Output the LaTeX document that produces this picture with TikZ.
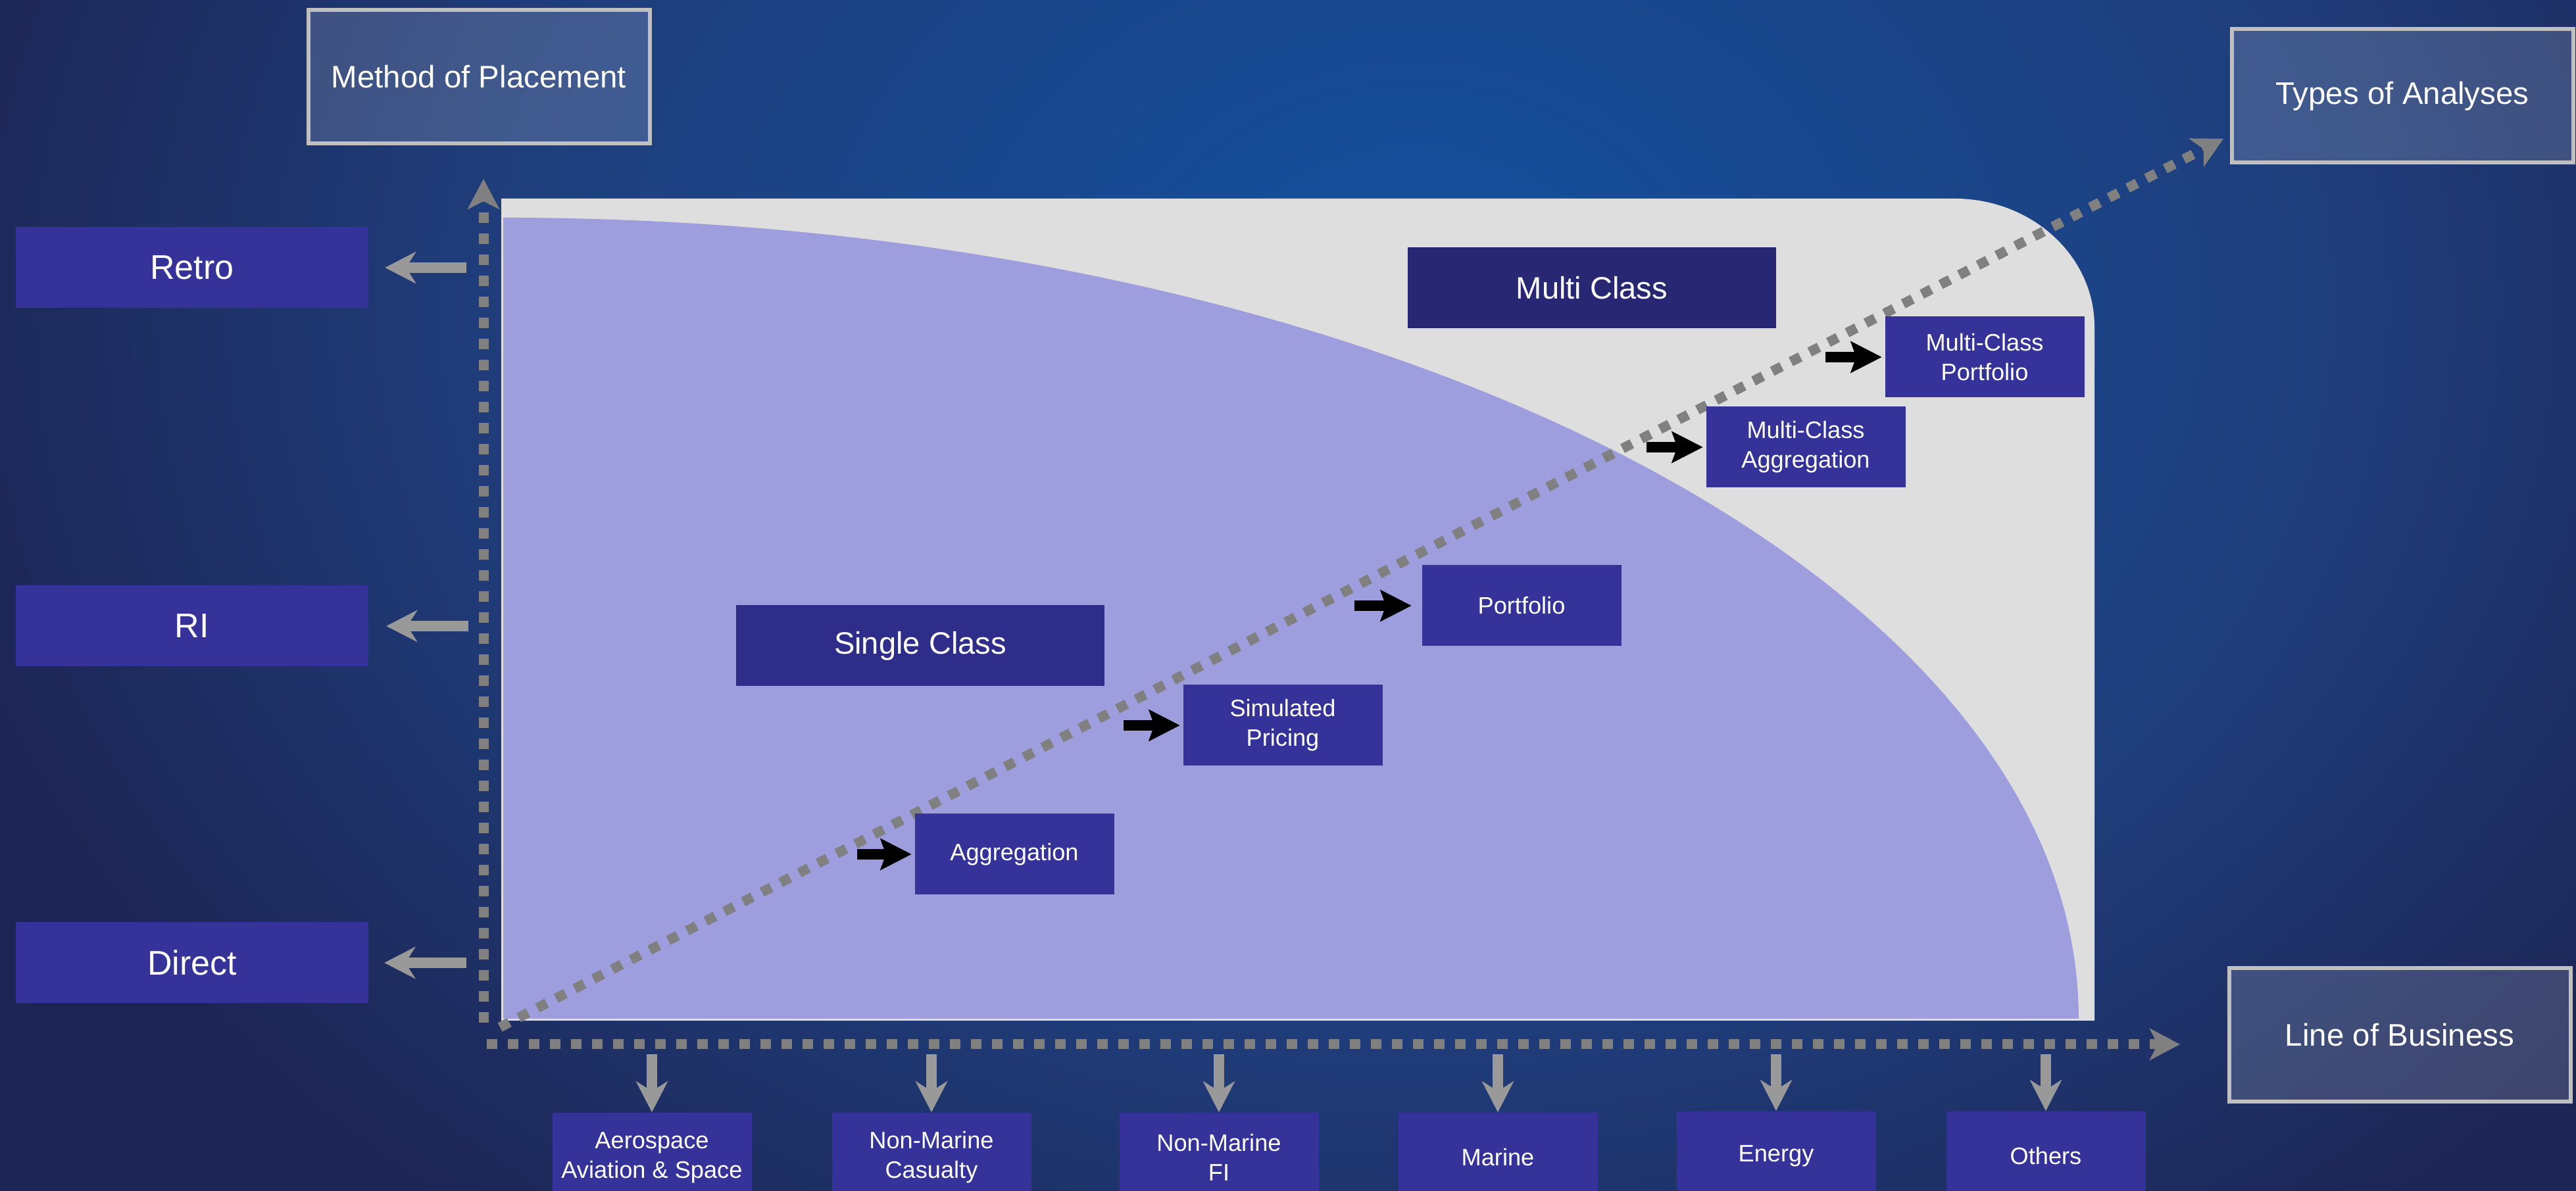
\documentclass[tikz,border=0pt]{standalone}
\usepackage{fontspec}
\setmainfont{Liberation Sans}
\usetikzlibrary{arrows.meta,positioning,calc}

\definecolor{bgin}{RGB}{21,77,152}
\definecolor{bgmid}{RGB}{31,62,124}
\definecolor{bgout}{RGB}{29,37,84}
\definecolor{boxblue}{RGB}{53,51,154}
\definecolor{singleblue}{RGB}{46,46,138}
\definecolor{multiblue}{RGB}{40,39,115}
\definecolor{panelgrey}{RGB}{222,222,222}
\definecolor{lilac}{RGB}{158,158,222}
\definecolor{axisgrey}{RGB}{128,128,128}
\definecolor{arrowgrey}{RGB}{153,153,153}
\definecolor{frameedge}{RGB}{192,192,192}
\pgfdeclareradialshading{bgglow}{\pgfpoint{0bp}{0bp}}{color(0bp)=(bgin); color(3bp)=(bgin); color(15bp)=(bgmid); color(25bp)=(bgout); color(50bp)=(bgout)}

\begin{document}
\begin{tikzpicture}[
  sidebox/.style={fill=boxblue, text=white, minimum width=5.35cm, minimum height=1.23cm, inner sep=0pt, font=\fontsize{14.8}{17}\selectfont},
  classbox/.style={text=white, minimum width=5.6cm, minimum height=1.23cm, inner sep=0pt, font=\fontsize{13.4}{16}\selectfont},
  stagebox/.style={fill=boxblue, text=white, minimum width=3.03cm, minimum height=1.23cm, inner sep=0pt, align=center, font=\fontsize{10.3}{12.8}\selectfont},
  lobbox/.style={stagebox, minimum height=1.36cm},
  axislabel/.style={draw=frameedge, line width=0.06cm, fill=white, fill opacity=0.15, text opacity=1, text=white, minimum width=5.19cm, minimum height=2.03cm, inner sep=0pt, font=\fontsize{13.5}{16}\selectfont},
  axisline/.style={color=axisgrey, line width=0.15cm, dash pattern=on 0.16cm off 0.16cm, -{Stealth[length=0.46cm, width=0.48cm, inset=0.12cm]}},
  greyarrow/.style={color=arrowgrey, line width=0.16cm, -{Stealth[length=0.47cm, width=0.48cm, inset=0.15cm]}},
  blkarrow/.style={color=black, line width=0.16cm, -{Stealth[length=0.47cm, width=0.47cm, inset=0.08cm]}, shorten >=0.04cm}
]
  % background
  \fill [bgout] (0,0) rectangle (39.16,18.11);
  \begin{scope}
    \clip (0,0) rectangle (39.16,18.11);
    \shade [shading=bgglow] (21.5,13.5) ellipse (23 and 18);
  \end{scope}
  \useasboundingbox (0,0) rectangle (39.16,18.11);

  % multi class panel and single class region
  \fill [panelgrey] (7.62,15.09) -- (29.71,15.09)
    arc [start angle=90, end angle=0, x radius=2.13, y radius=1.95]
    -- (31.84,2.59) -- (7.62,2.59) -- cycle;
  \fill [lilac] (7.65,2.62) -- (7.65,14.80)
    arc [start angle=90, end angle=0, x radius=23.95, y radius=12.18] -- cycle;

  % axes
  \coordinate (yfoot) at (7.35,2.56);
  \coordinate (ytip) at (7.35,15.39);
  \coordinate (xfoot) at (7.40,2.23);
  \coordinate (xtip) at (33.14,2.23);
  \coordinate (dfoot) at (7.60,2.49);
  \coordinate (dtip) at (33.80,16.00);
  \path [axisline]
  (yfoot) edge (ytip)
  (xfoot) edge (xtip)
  (dfoot) edge (dtip);

  \node (method) [axislabel] at (7.28,16.94) {Method of Placement};
  \node (types) [axislabel] at (36.52,16.65) {Types of Analyses};
  \node (lob) [axislabel] at (36.48,2.37) {Line of Business};

  % method of placement
  \node (retro) [sidebox] at (2.92,14.04) {Retro};
  \node (ri) [sidebox] at (2.92,8.59) {RI};
  \node (direct) [sidebox] at (2.92,3.47) {Direct};

  % classes
  \node (multi) [classbox, fill=multiblue] at (24.20,13.73) {Multi Class};
  \node (single) [classbox, fill=singleblue] at (13.99,8.29) {Single Class};

  % types of analyses
  \node (agg) [stagebox] at (15.42,5.12) {Aggregation};
  \node (simprice) [stagebox] at (19.50,7.08) {Simulated\\Pricing};
  \node (port) [stagebox] at (23.13,8.90) {Portfolio};
  \node (mcagg) [stagebox] at (27.45,11.31) {Multi-Class\\Aggregation};
  \node (mcport) [stagebox] at (30.17,12.68) {Multi-Class\\Portfolio};

  % lines of business
  \node (aero) [lobbox] at (9.91,0.51) {Aerospace\\Aviation \& Space};
  \node (nmcas) [lobbox] at (14.16,0.51) {Non-Marine\\Casualty};
  \node (nmfi) [lobbox] at (18.53,0.51) {Non-Marine\\FI};
  \node (marine) [lobbox] at (22.77,0.51) {Marine};
  \node (energy) [lobbox] at (27.00,0.53) {Energy};
  \node (others) [lobbox] at (31.10,0.53) {Others};

  \path [greyarrow]
  ([xshift=1.49cm]retro.east) edge ([xshift=0.25cm]retro.east)
  ([xshift=1.52cm]ri.east) edge ([xshift=0.27cm]ri.east)
  ([xshift=1.49cm]direct.east) edge ([xshift=0.24cm]direct.east)
  ([yshift=0.88cm]aero.north) edge (aero.north)
  ([yshift=0.88cm]nmcas.north) edge (nmcas.north)
  ([yshift=0.88cm]nmfi.north) edge (nmfi.north)
  ([yshift=0.88cm]marine.north) edge (marine.north)
  ([yshift=0.86cm]energy.north) edge (energy.north)
  ([yshift=0.86cm]others.north) edge (others.north);

  \path [blkarrow]
  ([xshift=-0.87cm]agg.west) edge (agg.west)
  ([xshift=-0.9cm]simprice.west) edge (simprice.west)
  ([xshift=-1.02cm]port.west) edge [shorten >=0.15cm] (port.west)
  ([xshift=-0.9cm]mcagg.west) edge (mcagg.west)
  ([xshift=-0.9cm]mcport.west) edge (mcport.west);
\end{tikzpicture}
\end{document}
